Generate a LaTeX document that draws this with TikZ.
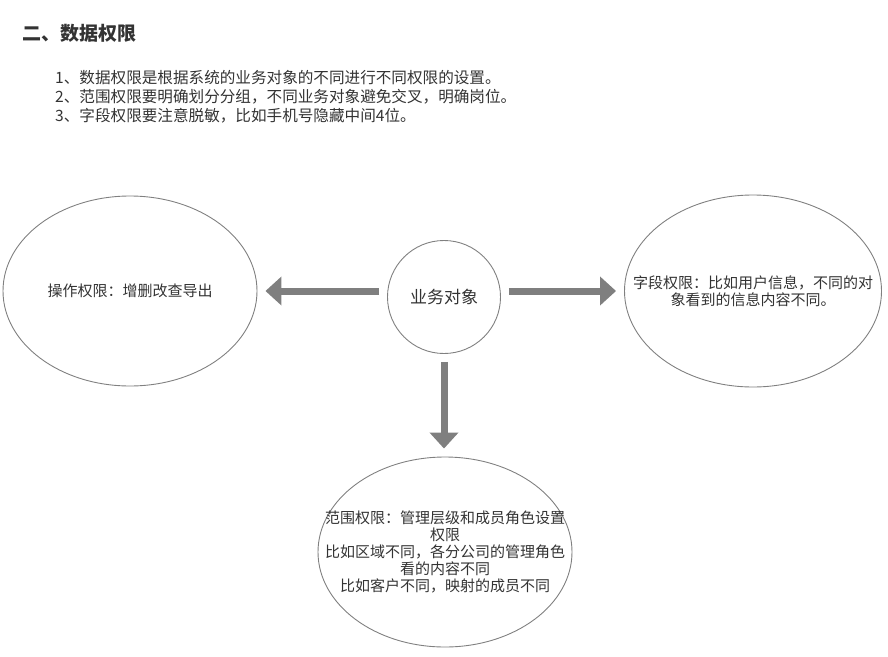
\documentclass[tikz,border=0pt]{standalone}
\usepackage{fontspec}
\setmainfont{Noto Sans CJK SC}
\usetikzlibrary{shapes.geometric,arrows.meta,calc,positioning}
\definecolor{linegray}{HTML}{808080}
\definecolor{arrowgray}{HTML}{7F7F7F}
\definecolor{textgray}{HTML}{333333}
\tikzset{
  oval/.style={ellipse,draw=linegray,line width=0.9pt,inner xsep=-40pt,inner ysep=0pt,minimum width=254pt,minimum height=190pt,align=center,text=textgray,font=\fontsize{15}{17}\selectfont},
  fatarrow/.style={draw=arrowgray,line width=7pt,-{Triangle[width=28pt,length=16pt]},shorten <=8pt,shorten >=8pt}
}
\begin{document}
\begin{tikzpicture}[x=1pt,y=-1pt,line join=round]
\useasboundingbox (0,0) rectangle (888,656);
% heading and notes
\node[anchor=west,inner sep=0pt,text=textgray,font=\fontsize{19}{21}\selectfont\bfseries] (title) at (22,33) {二、数据权限};
\foreach \n/\t in {1/数据权限是根据系统的业务对象的不同进行不同权限的设置。,2/范围权限要明确划分分组，不同业务对象避免交叉，明确岗位。,3/字段权限要注意脱敏，比如手机号隐藏中间4位。}{
  \node[anchor=west,inner sep=0pt,text=textgray,font=\fontsize{15.6}{17}\selectfont] (item\n) at (55,59+19*\n) {\n、\t};
}
% center and the three kinds
\node[circle,draw=linegray,line width=0.9pt,minimum size=113pt,inner sep=0pt,text=textgray,font=\fontsize{17}{19}\selectfont] (obj) at (444,297) {业务对象};
\node[oval] (op) at (130,291) {操作权限：增删改查导出};
\node[oval,minimum width=257pt,minimum height=192pt] (field) at (753,291) {字段权限：比如用户信息，不同的对\\象看到的信息内容不同。};
\node[oval] (range) at (445,552) {范围权限：管理层级和成员角色设置\\权限\\比如区域不同，各分公司的管理角色\\看的内容不同\\比如客户不同，映射的成员不同};
\draw[fatarrow] (obj.west |- op.east) -- (op.east);
\draw[fatarrow] (obj.east |- field.west) -- (field.west);
\draw[fatarrow] (obj.south) -- (obj.south |- range.north);
\end{tikzpicture}
\end{document}
